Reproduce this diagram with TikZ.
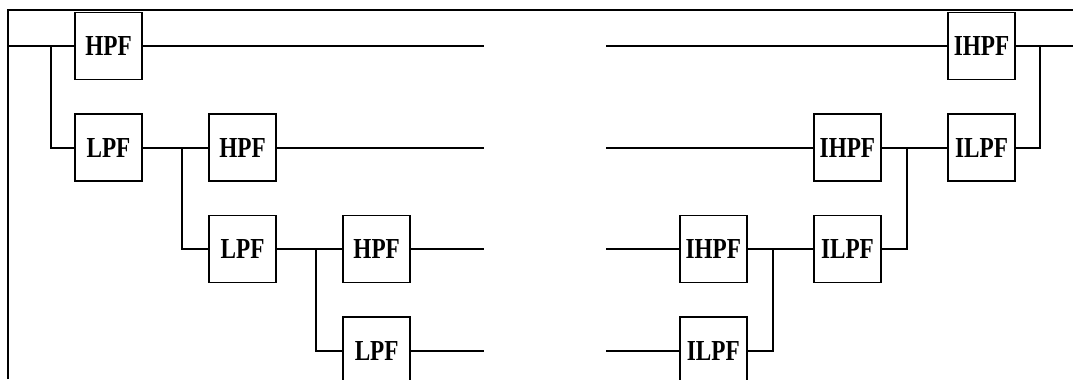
\documentclass[tikz,border=0pt]{standalone}
\usepackage{fontspec}
\newfontfamily\filtfont[FakeStretch=0.8]{Liberation Serif}
\usetikzlibrary{positioning, calc}
\tikzset{
    filter/.style={
        draw,
        rectangle,
        minimum width=1.34cm,
        minimum height=1.34cm,
        inner sep=0pt,
        line width=0.9pt,
        font=\filtfont\bfseries\fontsize{16.5}{18}\selectfont,
    }
}

\begin{document}
\begin{tikzpicture}[node distance=0.66cm and 1.31cm, line width=1.1pt]
   \useasboundingbox (0,0) rectangle (21.46,-7.58);
   \clip (0,0) rectangle (21.46,-7.58);
   \draw (0.16,-7.58) -- (0.16,-0.2) -- (21.46,-0.2);
   \coordinate (in) at (0.16,-0.92);
   \coordinate (cutl) at (9.68,0);
   \coordinate (cutr) at (12.12,0);
   \coordinate (out) at (21.46,0);
   \node[filter] (h1) at (2.17,-0.92) {HPF};
   \node[filter, below=of h1] (l1) {LPF};
   \node[filter, right=of l1] (h2) {HPF};
   \node[filter, below=of h2] (l2) {LPF};
   \node[filter, right=of l2] (h3) {HPF};
   \node[filter, below=of h3] (l3) {LPF};
   \node[filter] (ih1) at (19.63,-0.92) {IHPF};
   \node[filter, below=of ih1] (il1) {ILPF};
   \node[filter, left=of il1] (ih2) {IHPF};
   \node[filter, below=of ih2] (il2) {ILPF};
   \node[filter, left=of il2] (ih3) {IHPF};
   \node[filter, below=of ih3] (il3) {ILPF};
   \draw (in) -- (h1.west);
   \draw ($(in)!0.65!(h1.west)$) |- (l1.west);
   \draw (h1.east) -- (h1.east -| cutl);
   \draw (l1.east) -- (h2.west);
   \draw ($(l1.east)!0.6!(h2.west)$) |- (l2.west);
   \draw (h2.east) -- (h2.east -| cutl);
   \draw (l2.east) -- (h3.west);
   \draw ($(l2.east)!0.6!(h3.west)$) |- (l3.west);
   \draw (h3.east) -- (h3.east -| cutl);
   \draw (l3.east) -- (l3.east -| cutl);
   \draw (ih1.west -| cutr) -- (ih1.west);
   \draw (ih1.east) -- (ih1.east -| out);
   \draw (il1.east) -| ($(ih1.east)!0.43!(ih1.east -| out)$);
   \draw (ih2.west -| cutr) -- (ih2.west);
   \draw (ih2.east) -- (il1.west);
   \draw (il2.east) -| ($(ih2.east)!0.38!(il1.west)$);
   \draw (ih3.west -| cutr) -- (ih3.west);
   \draw (ih3.east) -- (il2.west);
   \draw (il3.east) -| ($(ih3.east)!0.39!(il2.west)$);
   \draw (il3.west -| cutr) -- (il3.west);
\end{tikzpicture}
\end{document}
